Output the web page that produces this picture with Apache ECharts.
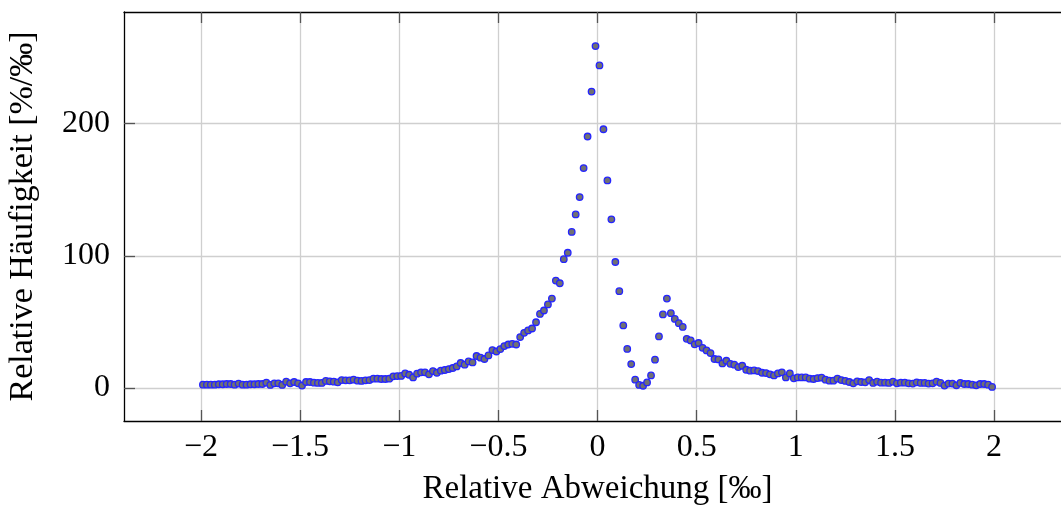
<!DOCTYPE html>
<html>
<head>
<meta charset="utf-8">
<script src="https://cdn.jsdelivr.net/npm/echarts@6/dist/echarts.min.js"></script>
<style>
  html, body { margin: 0; padding: 0; background: #fff; }
  #chart { width: 1061px; height: 506px; }
</style>
</head>
<body>
<div id="chart"></div>
<script>
// Bin centres of the relative deviation histogram (per mille)
const deviation = [
  -1.99, -1.97, -1.95, -1.93, -1.91, -1.89, -1.87, -1.85, -1.83, -1.81,
  -1.79, -1.77, -1.75, -1.73, -1.71, -1.69, -1.67, -1.65, -1.63, -1.61,
  -1.59, -1.57, -1.55, -1.53, -1.51, -1.49, -1.47, -1.45, -1.43, -1.41,
  -1.39, -1.37, -1.35, -1.33, -1.31, -1.29, -1.27, -1.25, -1.23, -1.21,
  -1.19, -1.17, -1.15, -1.13, -1.11, -1.09, -1.07, -1.05, -1.03, -1.01,
  -0.99, -0.97, -0.95, -0.93, -0.91, -0.89, -0.87, -0.85, -0.83, -0.81,
  -0.79, -0.77, -0.75, -0.73, -0.71, -0.69, -0.67, -0.65, -0.63, -0.61,
  -0.59, -0.57, -0.55, -0.53, -0.51, -0.49, -0.47, -0.45, -0.43, -0.41,
  -0.39, -0.37, -0.35, -0.33, -0.31, -0.29, -0.27, -0.25, -0.23, -0.21,
  -0.19, -0.17, -0.15, -0.13, -0.11, -0.09, -0.07, -0.05, -0.03, -0.01,
  0.01, 0.03, 0.05, 0.07, 0.09, 0.11, 0.13, 0.15, 0.17, 0.19,
  0.21, 0.23, 0.25, 0.27, 0.29, 0.31, 0.33, 0.35, 0.37, 0.39,
  0.41, 0.43, 0.45, 0.47, 0.49, 0.51, 0.53, 0.55, 0.57, 0.59,
  0.61, 0.63, 0.65, 0.67, 0.69, 0.71, 0.73, 0.75, 0.77, 0.79,
  0.81, 0.83, 0.85, 0.87, 0.89, 0.91, 0.93, 0.95, 0.97, 0.99,
  1.01, 1.03, 1.05, 1.07, 1.09, 1.11, 1.13, 1.15, 1.17, 1.19,
  1.21, 1.23, 1.25, 1.27, 1.29, 1.31, 1.33, 1.35, 1.37, 1.39,
  1.41, 1.43, 1.45, 1.47, 1.49, 1.51, 1.53, 1.55, 1.57, 1.59,
  1.61, 1.63, 1.65, 1.67, 1.69, 1.71, 1.73, 1.75, 1.77, 1.79,
  1.81, 1.83, 1.85, 1.87, 1.89, 1.91, 1.93, 1.95, 1.97, 1.99
];

// Relative frequency per bin (% per mille)
const frequency = [
  2.5, 2.5, 2.5, 2.5, 2.8, 2.8, 3.0, 3.0, 2.5, 3.3,
  2.5, 2.5, 2.8, 2.8, 3.0, 3.0, 4.0, 2.3, 3.5, 3.5,
  2.3, 4.8, 3.5, 4.5, 3.5, 1.8, 4.5, 4.5, 4.0, 3.8,
  3.8, 5.3, 5.0, 4.8, 4.3, 6.0, 5.8, 5.8, 6.3, 5.5,
  5.3, 5.8, 6.0, 7.0, 7.0, 6.8, 6.8, 7.0, 8.8, 9.0,
  9.1, 11.0, 10.0, 8.0, 10.8, 11.8, 11.8, 10.3, 12.8, 11.5,
  13.1, 13.6, 14.3, 15.1, 16.3, 18.9, 17.6, 20.1, 19.3, 24.2,
  22.9, 21.9, 24.6, 28.7, 27.6, 29.4, 31.7, 32.9, 33.4, 32.9,
  38.5, 41.7, 43.5, 45.0, 49.7, 56.0, 58.6, 63.2, 67.6, 81.2,
  79.2, 97.4, 102.3, 118.0, 131.3, 144.4, 166.3, 190.2, 224.2, 258.6,
  244.0, 195.7, 157.0, 127.6, 95.3, 73.2, 47.3, 29.5, 18.1, 6.3,
  2.3, 1.7, 4.2, 9.5, 21.4, 39.0, 55.6, 67.6, 56.6, 52.2,
  49.0, 46.2, 37.2, 36.0, 33.0, 34.0, 30.4, 28.4, 26.4, 21.9,
  21.6, 18.6, 20.6, 18.3, 17.6, 15.8, 16.8, 13.8, 13.1, 13.3,
  12.8, 11.5, 11.3, 10.3, 9.5, 11.0, 11.8, 8.0, 11.0, 7.3,
  8.0, 8.0, 8.0, 7.0, 6.8, 7.5, 7.8, 6.3, 5.5, 5.5,
  7.0, 6.0, 5.3, 4.5, 3.5, 5.0, 4.5, 4.3, 6.0, 3.8,
  4.8, 4.0, 4.0, 3.8, 4.8, 3.5, 4.0, 4.0, 3.5, 3.3,
  4.3, 3.8, 3.8, 3.3, 3.5, 4.8, 3.8, 1.8, 3.3, 3.3,
  2.0, 3.8, 3.0, 3.0, 2.5, 2.0, 3.0, 3.0, 2.5, 0.8
];

// Tick positions
const xTicks = [-2, -1.5, -1, -0.5, 0, 0.5, 1, 1.5, 2];
const yTicks = [0, 100, 200];

const points = deviation.map((x, i) => [x, frequency[i]]);

// Axis limits: data range widened by 10% on each side
const xSpan = deviation[deviation.length - 1] - deviation[0];
const xMin = deviation[0] - 0.1 * xSpan;
const xMax = deviation[deviation.length - 1] + 0.1 * xSpan;
const yLo = Math.min(...frequency), yHi = Math.max(...frequency);
const yMin = yLo - 0.1 * (yHi - yLo);
const yMax = yHi + 0.1 * (yHi - yLo);

const FONT = '"Liberation Serif", "DejaVu Serif", serif';
const fmtNum = v => (v < 0 ? '\u2212' + String(-v) : String(v));

const chart = echarts.init(document.getElementById('chart'), null, { renderer: 'canvas' });

const tickStyle = { show: true, inside: true, length: 11, lineStyle: { color: '#555555', width: 1.3 } };

chart.setOption({
  animation: false,
  backgroundColor: '#ffffff',
  grid: { left: 124, right: -10, top: 12, bottom: 85, containLabel: false, outerBoundsMode: 'none' },
  xAxis: [
    {
      type: 'value', position: 'bottom', min: xMin, max: xMax,
      name: 'Relative Abweichung [\u2030]', nameLocation: 'middle', nameGap: 52,
      nameTextStyle: { fontFamily: FONT, fontSize: 33, color: '#000' },
      axisLine: { show: true, onZero: false, lineStyle: { color: '#000', width: 1.3 } },
      axisTick: Object.assign({ customValues: xTicks }, tickStyle),
      axisLabel: { customValues: xTicks, formatter: fmtNum, fontFamily: FONT, fontSize: 32, color: '#000', margin: 11 },
      splitLine: { show: true, lineStyle: { color: '#cfcfcf', width: 1.3 } }
    },
    {
      type: 'value', position: 'top', min: xMin, max: xMax,
      axisLine: { show: true, onZero: false, lineStyle: { color: '#000', width: 1.3 } },
      axisTick: Object.assign({ customValues: xTicks }, tickStyle),
      axisLabel: { show: false },
      splitLine: { show: false }
    }
  ],
  yAxis: [
    {
      type: 'value', position: 'left', min: yMin, max: yMax,
      name: 'Relative H\u00e4ufigkeit [%/\u2030]', nameLocation: 'middle', nameGap: 84, nameRotate: 90,
      nameTextStyle: { fontFamily: FONT, fontSize: 34, color: '#000' },
      axisLine: { show: true, onZero: false, lineStyle: { color: '#000', width: 1.3 } },
      axisTick: Object.assign({ customValues: yTicks }, tickStyle),
      axisLabel: { customValues: yTicks, formatter: fmtNum, fontFamily: FONT, fontSize: 32, color: '#000', margin: 14 },
      splitLine: { show: true, lineStyle: { color: '#cfcfcf', width: 1.3 } }
    }
  ],
  series: [
    {
      type: 'scatter',
      data: points,
      symbol: 'circle',
      symbolSize: 6.5,
      itemStyle: { color: '#707074', borderColor: '#2424ff', borderWidth: 1.3, opacity: 1 },
      z: 5
    }
  ]
});
</script>
</body>
</html>
